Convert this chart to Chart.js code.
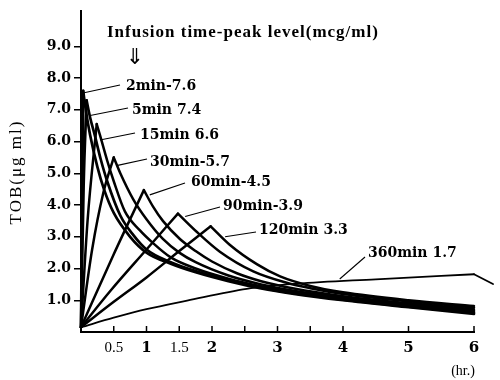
<!DOCTYPE html>
<html>
<head>
<meta charset="utf-8">
<script src="https://cdn.jsdelivr.net/npm/chart.js@4.4.1/dist/chart.umd.min.js"></script>
<style>
  body { margin: 0; background: #fff; }
  canvas { display: block; }
</style>
</head>
<body>
<canvas id="tobChart" width="500" height="380"></canvas>
<script>
// TOB serum level after infusion, time in hours, level in mcg/ml
const time2   = [0, 0.033, 0.08, 0.14, 0.25, 0.35, 0.5, 0.75, 1, 1.37, 1.75, 2.25, 2.75, 3.25, 4, 5, 6];
const level2  = [0.15, 7.6, 6.9, 6.2, 5.2, 4.5, 3.75, 3.0, 2.5, 2.15, 1.88, 1.6, 1.37, 1.2, 1.0, 0.78, 0.57];
const time5   = [0, 0.04, 0.085, 0.14, 0.21, 0.3, 0.4, 0.6, 0.8, 1, 1.37, 1.75, 2.25, 2.75, 3.25, 4, 5, 6];
const level5  = [0.15, 4.6, 7.3, 6.75, 6.2, 5.45, 4.75, 3.67, 3.05, 2.6, 2.2, 1.92, 1.63, 1.4, 1.22, 1.02, 0.8, 0.61];
const time15  = [0, 0.1, 0.24, 0.29, 0.4, 0.5, 0.67, 0.9, 1.1, 1.37, 1.75, 2.25, 2.75, 3.25, 4, 5, 6];
const level15 = [0.15, 3.5, 6.55, 6.2, 5.4, 4.75, 3.8, 3.2, 2.8, 2.35, 2.0, 1.68, 1.44, 1.26, 1.06, 0.84, 0.65];
const time30  = [0, 0.17, 0.34, 0.5, 0.6, 0.8, 1, 1.25, 1.5, 1.75, 2.25, 2.75, 3.25, 4, 5, 6];
const level30 = [0.15, 2.6, 4.38, 5.5, 5.0, 4.17, 3.55, 2.93, 2.5, 2.2, 1.78, 1.5, 1.3, 1.09, 0.87, 0.68];
const time60  = [0, 0.5, 0.96, 1.1, 1.25, 1.51, 1.75, 2, 2.38, 2.75, 3.25, 4, 5, 6];
const level60 = [0.15, 2.45, 4.47, 3.95, 3.5, 2.93, 2.55, 2.22, 1.85, 1.6, 1.37, 1.13, 0.91, 0.72];
const time90  = [0, 0.45, 1, 1.48, 1.77, 2.12, 2.63, 3.14, 3.5, 4, 5, 6];
const level90 = [0.15, 1.3, 2.6, 3.73, 3.15, 2.53, 1.91, 1.55, 1.38, 1.2, 0.97, 0.77];
const time120  = [0, 0.5, 1, 1.5, 1.98, 2.27, 2.69, 3.04, 3.5, 4, 5, 6];
const level120 = [0.15, 0.95, 1.72, 2.55, 3.33, 2.75, 2.13, 1.75, 1.45, 1.25, 1.0, 0.82];
const time360  = [0, 0.5, 1, 1.62, 2.53, 3.3, 4.5, 6, 6.29];
const level360 = [0.15, 0.45, 0.72, 0.99, 1.36, 1.52, 1.66, 1.82, 1.51];

const curveLabels = ["2min-7.6", "5min 7.4", "15min 6.6", "30min-5.7", "60min-4.5", "90min-3.9", "120min 3.3", "360min 1.7"];
const xTicks = [0.5, 1, 1.5, 2, 2.5, 3, 3.5, 4, 5, 6];
const xTickLabels = ["0.5", "1", "1.5", "2", "", "3", "", "4", "5", "6"];
const yTicks = [1, 2, 3, 4, 5, 6, 7, 8, 9];

const curves = [
  [time2, level2, 2.7], [time5, level5, 2.7], [time15, level15, 2.5], [time30, level30, 2.5],
  [time60, level60, 2.5], [time90, level90, 2.5], [time120, level120, 2.5], [time360, level360, 1.8]
];

function lineSet(points, width) {
  return {
    data: points,
    borderColor: "#000",
    borderWidth: width,
    pointRadius: 0,
    fill: false,
    cubicInterpolationMode: "monotone",
    borderCapStyle: "round",
    borderJoinStyle: "miter",
    clip: false
  };
}

// split every curve at its peak so the corner stays sharp
const datasets = [];
curves.forEach(([t, v, w]) => {
  const peak = v.indexOf(Math.max(...v));
  const pts = t.map((x, i) => ({ x: x, y: v[i] }));
  datasets.push(lineSet(pts.slice(0, peak + 1), w));
  datasets.push(lineSet(pts.slice(peak), w));
});

// where each leader line leaves the curve (data units) and where the label sits (px)
const leaders = [
  { from: [0.03, 7.53], to: [120, 85], text: [126, 86] },
  { from: [0.14, 6.82], to: [128, 108], text: [132, 110] },
  { from: [0.29, 6.05], to: [135, 133], text: [140, 135] },
  { from: [0.56, 5.25], to: [147, 159], text: [150, 162] },
  { from: [1.05, 4.32], to: [185, 183], text: [191, 182] },
  { from: [1.59, 3.64], to: [220, 207], text: [223, 206] },
  { from: [2.2, 3.0], to: [256, 232], text: [259, 230] },
  { from: [3.95, 1.67], to: [365, 257], text: [368, 253] }
];

const decorations = {
  id: "decorations",
  afterDraw(chart) {
    const ctx = chart.ctx;
    const x = chart.scales.x, y = chart.scales.y;
    const bottom = chart.chartArea.bottom;
    ctx.save();
    ctx.strokeStyle = "#000";
    ctx.fillStyle = "#000";

    // x ticks point up into the plot
    ctx.lineWidth = 1.5;
    xTicks.forEach(v => {
      const px = x.getPixelForValue(v);
      ctx.beginPath();
      ctx.moveTo(px, bottom);
      ctx.lineTo(px, bottom - 6);
      ctx.stroke();
    });

    // leader lines and curve labels
    ctx.lineWidth = 1.1;
    ctx.font = "bold 14px 'DejaVu Serif'";
    ctx.textBaseline = "middle";
    ctx.textAlign = "left";
    leaders.forEach((l, i) => {
      ctx.beginPath();
      ctx.moveTo(x.getPixelForValue(l.from[0]), y.getPixelForValue(l.from[1]));
      ctx.lineTo(l.to[0], l.to[1]);
      ctx.stroke();
      ctx.fillText(curveLabels[i], l.text[0], l.text[1]);
    });

    // heading and arrow
    ctx.font = "bold 17px 'Liberation Serif'";
    ctx.letterSpacing = "1px";
    ctx.fillText("Infusion time-peak level(mcg/ml)", 107, 33);
    ctx.letterSpacing = "0px";
    ctx.font = "22px 'DejaVu Sans'";
    ctx.textAlign = "center";
    ctx.fillText("⇓", 135, 58);

    // axis titles
    ctx.font = "14px 'Liberation Serif'";
    ctx.fillText("(hr.)", 463, 371);
    ctx.translate(17, 172);
    ctx.rotate(-Math.PI / 2);
    ctx.font = "17px 'Liberation Serif'";
    ctx.letterSpacing = "2px";
    ctx.fillText("TOB(μg ml)", 0, 0);
    ctx.restore();
  }
};

new Chart(document.getElementById("tobChart"), {
  type: "line",
  data: { datasets: datasets },
  options: {
    responsive: false,
    animation: false,
    layout: { padding: { top: 5, right: 26, left: 0, bottom: 0 } },
    plugins: { legend: { display: false }, tooltip: { enabled: false } },
    scales: {
      x: {
        type: "linear",
        min: 0,
        max: 6,
        afterBuildTicks: s => { s.ticks = xTicks.map(v => ({ value: v })); },
        afterFit: s => { s.height = 48; },
        border: { display: true, color: "#000", width: 2 },
        grid: { display: false, drawTicks: false },
        ticks: {
          padding: 7,
          color: "#000",
          autoSkip: false,
          maxRotation: 0,
          callback: (v, i) => xTickLabels[i],
          font: c => (c.tick && c.tick.value % 1)
            ? { family: "'Liberation Serif'", size: 15, weight: "normal" }
            : { family: "'DejaVu Serif'", size: 15, weight: "bold" }
        }
      },
      y: {
        min: 0,
        max: 10.1,
        afterBuildTicks: s => { s.ticks = yTicks.map(v => ({ value: v })); },
        afterFit: s => { s.width = 81; },
        border: { display: true, color: "#000", width: 2 },
        grid: { drawOnChartArea: false, drawTicks: true, tickLength: 7, color: "#000", lineWidth: 1.5 },
        ticks: {
          padding: 3,
          color: "#000",
          callback: v => v.toFixed(1),
          font: { family: "'DejaVu Serif'", size: 14, weight: "bold" }
        }
      }
    }
  },
  plugins: [decorations]
});
</script>
</body>
</html>
